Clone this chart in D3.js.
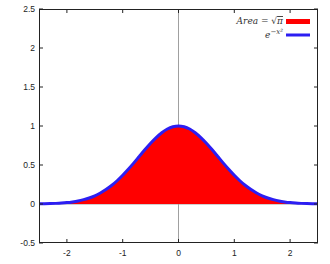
<!DOCTYPE html>
<html><head><meta charset="utf-8">
<script src="https://cdn.jsdelivr.net/npm/d3@7"></script>
<style>body{margin:0;background:#fff}svg{display:block}</style>
</head><body>
<svg id="c" width="330" height="264"></svg>
<script>
const xs = [-2.5,-2.4,-2.3,-2.2,-2.1,-2.0,-1.9,-1.8,-1.7,-1.6,-1.5,-1.4,-1.3,-1.2,-1.1,-1.0,-0.9,-0.8,-0.7,-0.6,-0.5,-0.4,-0.3,-0.2,-0.1,0,
            0.1,0.2,0.3,0.4,0.5,0.6,0.7,0.8,0.9,1.0,1.1,1.2,1.3,1.4,1.5,1.6,1.7,1.8,1.9,2.0,2.1,2.2,2.3,2.4,2.5];
const ys = [0.002,0.003,0.005,0.008,0.012,0.018,0.027,0.039,0.056,0.077,0.105,0.141,0.185,0.237,0.298,0.368,0.445,0.527,0.613,0.698,0.779,0.852,0.914,0.961,0.990,1.0,
            0.990,0.961,0.914,0.852,0.779,0.698,0.613,0.527,0.445,0.368,0.298,0.237,0.185,0.141,0.105,0.077,0.056,0.039,0.027,0.018,0.012,0.008,0.005,0.003,0.002];
const xTicks = [-2,-1,0,1,2];
const yTicks = [-0.5,0,0.5,1,1.5,2,2.5];
const xDomain = [-2.5,2.5];
const yDomain = [-0.5,2.5];

const svg = d3.select("#c");
const L=39, R=318, T=9, B=243;
const x = d3.scaleLinear().domain(xDomain).range([L,R]);
const y = d3.scaleLinear().domain(yDomain).range([B,T]);
const pts = xs.map((v,i)=>[v,ys[i]]);
const blue = "#2c1ef2";

// zero axes
svg.append("line").attr("x1",x(0)).attr("x2",x(0)).attr("y1",T).attr("y2",B).attr("stroke","#a0a0a0").attr("stroke-width",1);
svg.append("line").attr("x1",L).attr("x2",R).attr("y1",y(0)).attr("y2",y(0)).attr("stroke","#a0a0a0").attr("stroke-width",1);

// area
svg.append("path").datum(pts)
  .attr("d", d3.area().x(d=>x(d[0])).y0(y(0)).y1(d=>y(d[1])).curve(d3.curveMonotoneX))
  .attr("fill","#ff0000");
// line
svg.append("path").datum(pts)
  .attr("d", d3.line().x(d=>x(d[0])).y(d=>y(d[1])).curve(d3.curveMonotoneX))
  .attr("fill","none").attr("stroke",blue).attr("stroke-width",3);

// axes with mirrored ticks
const tl = 4;
const ax = svg.append("g").attr("stroke","#222").attr("stroke-width",1);
xTicks.forEach(t=>{
  ax.append("line").attr("x1",x(t)).attr("x2",x(t)).attr("y1",B).attr("y2",B-tl);
  ax.append("line").attr("x1",x(t)).attr("x2",x(t)).attr("y1",T).attr("y2",T+tl);
});
yTicks.forEach(t=>{
  ax.append("line").attr("x1",L).attr("x2",L+tl).attr("y1",y(t)).attr("y2",y(t));
  ax.append("line").attr("x1",R).attr("x2",R-tl).attr("y1",y(t)).attr("y2",y(t));
});
svg.append("rect").attr("x",L+0.5).attr("y",T+0.5).attr("width",R-L-1).attr("height",B-T-1)
  .attr("fill","none").attr("stroke","#222").attr("stroke-width",1);

const lab = svg.append("g").attr("font-family","Liberation Sans, Arial, sans-serif").attr("font-size",8.5).attr("fill","#222");
xTicks.forEach(t=>{
  lab.append("text").attr("x",x(t)).attr("y",B+13).attr("text-anchor","middle").text(t);
});
yTicks.forEach(t=>{
  lab.append("text").attr("x",L-4).attr("y",y(t)+3).attr("text-anchor","end").text(t);
});

// legend
const lg = svg.append("g").attr("font-family","DejaVu Serif, Liberation Serif, serif").attr("font-size",9).attr("fill","#333");
const t1 = lg.append("text").attr("x",283).attr("y",24).attr("text-anchor","end");
t1.append("tspan").attr("font-style","italic").text("Area");
t1.append("tspan").text(" = √");
t1.append("tspan").attr("font-style","italic").attr("text-decoration","overline").text("π");
svg.append("rect").attr("x",286).attr("y",19).attr("width",24).attr("height",5).attr("fill","#ff0000");
const t2 = lg.append("text").attr("x",283).attr("y",38).attr("text-anchor","end");
t2.append("tspan").attr("font-style","italic").text("e");
t2.append("tspan").attr("font-size",7).attr("dy",-4).attr("font-style","italic").text("−x²");
svg.append("line").attr("x1",286).attr("x2",310).attr("y1",35).attr("y2",35).attr("stroke",blue).attr("stroke-width",3);
</script>
</body></html>
